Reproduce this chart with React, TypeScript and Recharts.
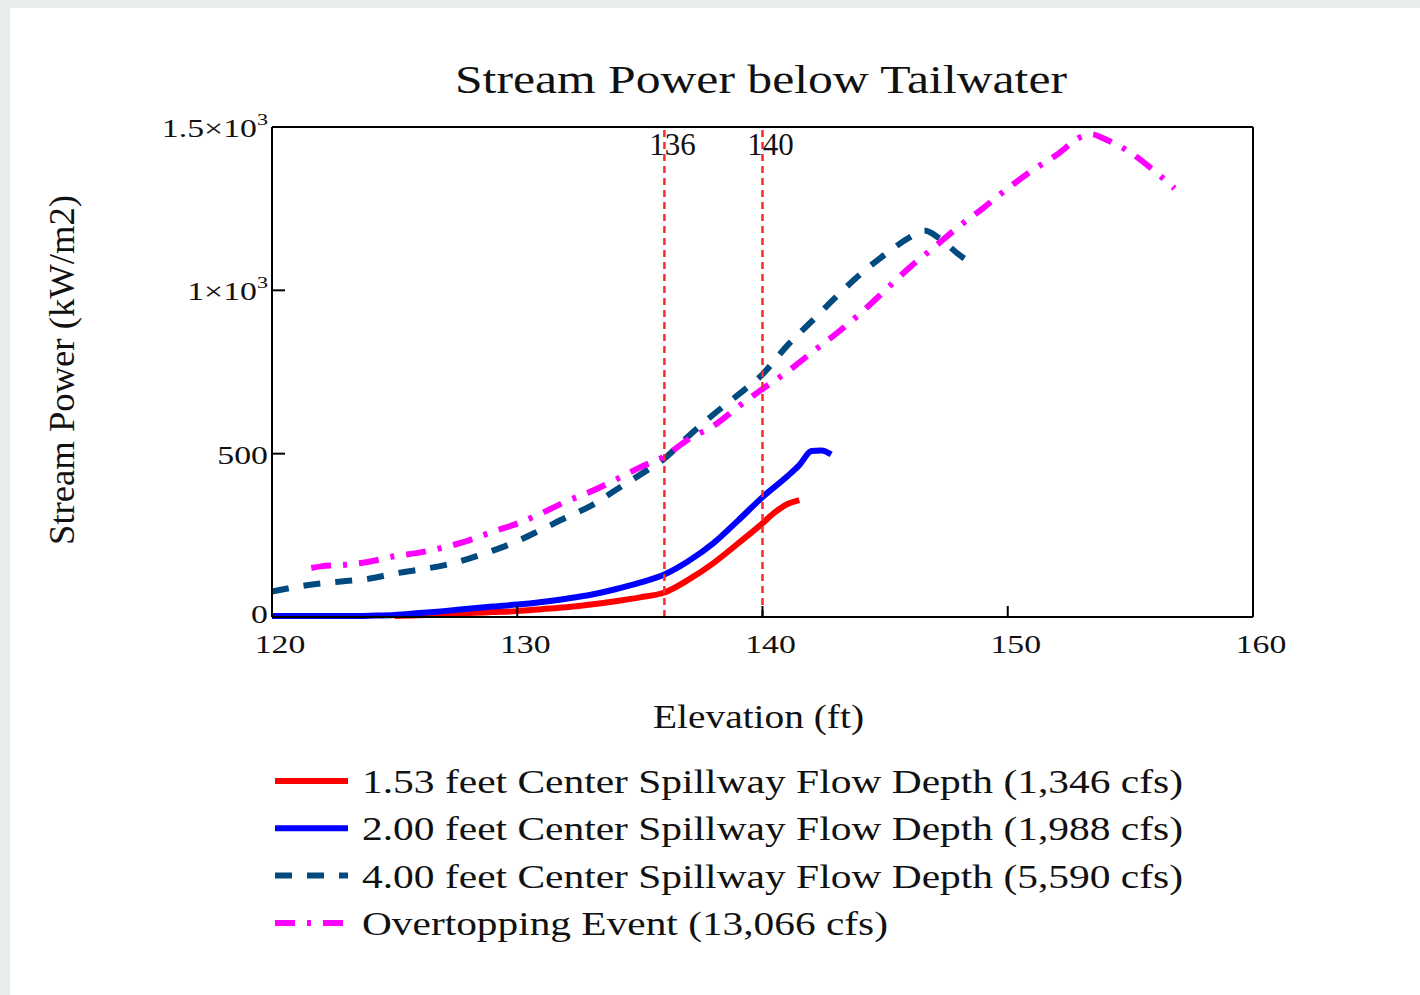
import { LineChart, Line, XAxis, YAxis, ReferenceLine } from 'recharts';

const SERIF = 'Liberation Serif';

// 1.53 ft center spillway flow depth
const redX = [125, 126, 127, 128, 129, 130, 131, 132, 133, 134, 135, 136, 137, 138, 139, 140, 140.5, 141, 141.5];
const redY = [3, 5, 8, 12, 15, 18, 24, 30, 38, 48, 60, 75, 115, 165, 225, 287, 320, 345, 358];

// 2.00 ft center spillway flow depth
const blueX = [120, 121, 122, 123, 124, 125, 126, 127, 128, 129, 130, 131, 132, 133, 134, 135, 136, 137, 138, 139, 140, 141, 141.5, 142, 142.4, 142.8];
const blueY = [3, 3, 3, 3, 4, 6, 12, 18, 25, 32, 38, 46, 56, 68, 85, 105, 130, 172, 226, 295, 367, 430, 465, 508, 510, 498];

// 4.00 ft center spillway flow depth
const navyX = [120, 121, 122, 123, 124, 125, 126, 127, 128, 129, 130, 131, 132, 133, 134, 135, 136, 137, 138, 139, 140, 141, 142, 143, 144, 145, 146, 146.6, 147.2, 148, 148.7];
const navyY = [78, 92, 103, 110, 118, 133, 145, 158, 178, 203, 232, 268, 305, 340, 388, 435, 485, 555, 620, 680, 743, 830, 905, 980, 1050, 1110, 1162, 1183, 1160, 1110, 1073];

// overtopping event
const magX = [121.6, 122, 123, 124, 125, 126, 127, 128, 129, 130, 131, 132, 133, 134, 135, 136, 137, 138, 139, 140, 141, 142, 143, 144, 145, 146, 147, 148, 149, 150, 151, 152, 153, 153.4, 154, 155, 156, 156.8];
const magY = [150, 155, 160, 170, 186, 197, 213, 234, 261, 286, 318, 354, 384, 420, 458, 492, 545, 585, 643, 698, 750, 809, 867, 930, 1000, 1070, 1132, 1195, 1252, 1312, 1367, 1415, 1470, 1478, 1462, 1422, 1364, 1312];

const xTicks = [120, 130, 140, 150, 160];
const yTicks = [0, 500, 1000, 1500];
const markers = [136, 140];

const toPoints = (xs: number[], ys: number[]) => xs.map((x, i) => ({ x, y: ys[i] }));

const series = [
  { name: '1.53 feet Center Spillway Flow Depth (1,346 cfs)', data: toPoints(redX, redY), color: '#ff0000', dash: undefined as string | undefined },
  { name: '2.00 feet Center Spillway Flow Depth (1,988 cfs)', data: toPoints(blueX, blueY), color: '#0000ff', dash: undefined },
  { name: '4.00 feet Center Spillway Flow Depth (5,590 cfs)', data: toPoints(navyX, navyY), color: '#004a80', dash: '17 15' },
  { name: 'Overtopping Event (13,066 cfs)', data: toPoints(magX, magY), color: '#ff00ff', dash: '20 12 4 12' },
];
const legendWidths = [821, 821, 821, 526];

function BottomTick({ x, y, payload }: any) {
  const v = payload.value;
  return (
    <g>
      {v !== 120 && v !== 160 && <line x1={x} x2={x} y1={y} y2={y - 11} stroke="#000" strokeWidth={2} />}
      <text transform={`translate(${x + 8} ${y + 36}) scale(1.3 1)`} textAnchor="middle" fontSize={26} fontFamily={SERIF} fill="#111">
        {v}
      </text>
    </g>
  );
}

function TopTick({ x, y }: any) {
  return <line x1={x} x2={x} y1={y} y2={y + 13} stroke="#000" strokeWidth={2} />;
}

function LeftTick({ x, y, payload }: any) {
  const v = payload.value;
  const inner = v === 500 || v === 1000;
  // the zero label sits a bit higher so it clears the 120 label underneath
  const dy = v === 0 ? 6 : 10;
  return (
    <g>
      {inner && <line x1={x} x2={x + 13} y1={y} y2={y} stroke="#000" strokeWidth={2} />}
      <text transform={`translate(${x - 4} ${y + dy}) scale(1.3 1)`} textAnchor="end" fontSize={26} fontFamily={SERIF} fill="#111">
        {v >= 1000 ? (
          <>
            <tspan>{v === 1000 ? '1' : '1.5'}×10</tspan>
            <tspan dy={-12} fontSize={17}>3</tspan>
          </>
        ) : (
          v
        )}
      </text>
    </g>
  );
}

function RightTick({ x, y }: any) {
  return <line x1={x} x2={x - 13} y1={y} y2={y} stroke="#000" strokeWidth={2} />;
}

function MarkerLabel({ viewBox, text }: any) {
  return (
    <text x={viewBox.x + 8} y={viewBox.y + 28} textAnchor="middle" fontSize={31} fontFamily={SERIF} fill="#111">
      {text}
    </text>
  );
}

export default function App() {
  return (
    <div style={{ position: 'absolute', left: 0, top: 0, width: 1420, height: 995, background: '#e8ecea', overflow: 'hidden' }}>
      <div style={{ position: 'absolute', left: 10, top: 8, right: 0, bottom: 0, background: '#fff' }} />
      <div style={{ position: 'absolute', left: 0, top: 0 }}>
        <LineChart width={1420} height={995} margin={{ top: 126, right: 166, bottom: 318, left: 152 }}>
          <XAxis
            type="number"
            dataKey="x"
            domain={[120, 160]}
            ticks={xTicks}
            interval={0}
            height={60}
            tickSize={0}
            tickMargin={0}
            tickLine={false}
            axisLine={{ stroke: '#000', strokeWidth: 2 }}
            tick={<BottomTick />}
          />
          <XAxis
            xAxisId="top"
            orientation="top"
            type="number"
            domain={[120, 160]}
            ticks={[130, 140, 150]}
            interval={0}
            height={1}
            tickSize={0}
            tickMargin={0}
            tickLine={false}
            axisLine={{ stroke: '#000', strokeWidth: 2 }}
            tick={<TopTick />}
          />
          <YAxis
            type="number"
            domain={[0, 1500]}
            ticks={yTicks}
            interval={0}
            width={120}
            tickSize={0}
            tickMargin={0}
            tickLine={false}
            axisLine={{ stroke: '#000', strokeWidth: 2 }}
            tick={<LeftTick />}
          />
          <YAxis
            yAxisId="right"
            orientation="right"
            type="number"
            domain={[0, 1500]}
            ticks={[500, 1000]}
            interval={0}
            width={1}
            tickSize={0}
            tickMargin={0}
            tickLine={false}
            axisLine={{ stroke: '#000', strokeWidth: 2 }}
            tick={<RightTick />}
          />
          {series.map(s => (
            <Line
              key={s.name}
              data={s.data}
              dataKey="y"
              type="monotone"
              stroke={s.color}
              strokeWidth={6}
              strokeDasharray={s.dash}
              dot={false}
              activeDot={false}
              isAnimationActive={false}
            />
          ))}
          {markers.map(m => (
            <ReferenceLine
              key={m}
              x={m}
              stroke="#ff2a2a"
              strokeWidth={2.5}
              strokeDasharray="7 5"
              label={<MarkerLabel text={String(m)} />}
            />
          ))}
        </LineChart>
      </div>
      <svg width={1420} height={995} style={{ position: 'absolute', left: 0, top: 0, pointerEvents: 'none' }}>
        <text x={455} y={93} fontSize={40} fontFamily={SERIF} fill="#111" textLength={612} lengthAdjust="spacingAndGlyphs">
          Stream Power below Tailwater
        </text>
        <text x={653} y={728} fontSize={34} fontFamily={SERIF} fill="#111" textLength={211} lengthAdjust="spacingAndGlyphs">
          Elevation (ft)
        </text>
        <text transform="translate(74 545) rotate(-90)" fontSize={36} fontFamily={SERIF} fill="#111" textLength={350} lengthAdjust="spacingAndGlyphs">
          Stream Power (kW/m2)
        </text>
        {series.map((s, i) => {
          const cy = 781 + i * 47.3;
          return (
            <g key={s.name}>
              <line x1={275} x2={348} y1={cy} y2={cy} stroke={s.color} strokeWidth={6} strokeDasharray={s.dash} />
              <text x={362} y={cy + 12} fontSize={34} fontFamily={SERIF} fill="#111" textLength={legendWidths[i]} lengthAdjust="spacingAndGlyphs">
                {s.name}
              </text>
            </g>
          );
        })}
      </svg>
    </div>
  );
}
